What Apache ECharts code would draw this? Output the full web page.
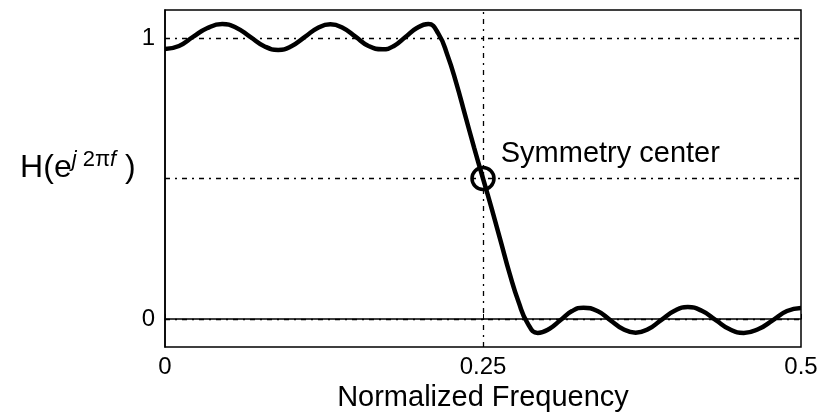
<!DOCTYPE html>
<html>
<head>
<meta charset="utf-8">
<script src="https://cdn.jsdelivr.net/npm/echarts@6/dist/echarts.min.js"></script>
<style>
  html, body { margin: 0; padding: 0; background: #fff; }
  #main { width: 820px; height: 419px; }
</style>
</head>
<body>
<div id="main"></div>
<script>
// frequency samples (normalized) and magnitude,
// sampled at the ripple peaks/troughs and between them
const freq = [0, 0.011, 0.022, 0.033, 0.045, 0.056, 0.067, 0.078, 0.089,
  0.099, 0.110, 0.120, 0.130, 0.140, 0.150, 0.160, 0.171,
  0.180, 0.189, 0.198, 0.207, 0.215, 0.222, 0.229, 0.236, 0.243,
  0.250, 0.257, 0.264, 0.271, 0.278, 0.285, 0.293,
  0.302, 0.311, 0.320, 0.329, 0.340, 0.350, 0.360, 0.370,
  0.380, 0.390, 0.401, 0.411, 0.422, 0.433, 0.444, 0.455,
  0.467, 0.478, 0.489, 0.500]
const response = [0.961, 0.972, 1.004, 1.035, 1.050, 1.037, 1.004, 0.971, 0.958,
  0.970, 1.004, 1.036, 1.049, 1.036, 1.004, 0.972, 0.960,
  0.972, 1.004, 1.036, 1.050, 1.015, 0.940, 0.840, 0.725, 0.610,
  0.500, 0.390, 0.275, 0.160, 0.060, -0.015, -0.050,
  -0.036, -0.004, 0.028, 0.040, 0.028, -0.004, -0.036, -0.049,
  -0.036, -0.004, 0.030, 0.042, 0.029, -0.004, -0.037, -0.050,
  -0.035, -0.004, 0.028, 0.039]

// tick labels and reference lines
const xTicks = [0, 0.25, 0.5]
const yTicks = [0, 0.5, 1]
const yLabels = [0, 1]
const hGrid = [0, 0.5, 1]
const vGrid = [0.25]
const center = [0.25, 0.5]

const font = 'Liberation Sans, Arial, sans-serif'
const gridStyle = { color: '#000', width: 1.3, type: [5, 5, 2, 5] }

const curve = freq.map((f, i) => [f, response[i]])

const markData = hGrid.map(v => ({ yAxis: v }))
  .concat(vGrid.map(v => ({ xAxis: v })))

var myChart = echarts.init(document.getElementById('main'))

const option = {
  animation: false,
  backgroundColor: '#fff',
  grid: {
    left: 165, right: 19, top: 10, bottom: 72,
    containLabel: false,
    outerBoundsMode: 'none',
    show: true, borderColor: '#000', borderWidth: 1.5
  },
  xAxis: {
    type: 'value',
    min: 0, max: 0.5,
    name: 'Normalized Frequency',
    nameLocation: 'middle',
    nameGap: 36,
    nameTextStyle: { fontFamily: font, fontSize: 29, color: '#000' },
    axisLine: { show: true, lineStyle: { color: '#000', width: 1.5 } },
    axisTick: { show: true, inside: true, length: 5, customValues: xTicks, lineStyle: { color: '#000' } },
    axisLabel: {
      customValues: xTicks, margin: 8,
      fontFamily: font, fontSize: 24, color: '#000',
      formatter: v => String(v)
    },
    splitLine: { show: false }
  },
  yAxis: {
    type: 'value',
    min: -0.1, max: 1.1,
    name: '{b|H(e}{i|j}{s| 2π}{i|f}{b| )}',
    nameLocation: 'middle',
    nameRotate: 0,
    nameGap: 26,
    nameTextStyle: {
      align: 'right',
      padding: [0, 0, 24, 0],
      rich: {
        b: { fontFamily: font, fontSize: 32, color: '#000', verticalAlign: 'bottom', lineHeight: 36 },
        s: { fontFamily: font, fontSize: 22, color: '#000', verticalAlign: 'top', lineHeight: 36 },
        i: { fontFamily: font, fontSize: 22, fontStyle: 'italic', color: '#000', verticalAlign: 'top', lineHeight: 36 }
      }
    },
    axisLine: { show: true, lineStyle: { color: '#000', width: 1.5 } },
    axisTick: { show: true, inside: true, length: 5, customValues: yTicks, lineStyle: { color: '#000' } },
    axisLabel: {
      customValues: yLabels, margin: 10,
      fontFamily: font, fontSize: 24, color: '#000'
    },
    splitLine: { show: false }
  },
  series: [
    {
      type: 'line',
      data: curve,
      smooth: 0.5,
      symbol: 'none',
      lineStyle: { color: '#000', width: 4.5 },
      markLine: {
        silent: true,
        symbol: 'none',
        label: { show: false },
        lineStyle: gridStyle,
        data: markData
      },
      z: 3
    },
    {
      type: 'scatter',
      data: [center],
      symbol: 'circle',
      symbolSize: 22,
      itemStyle: { color: 'rgba(255,255,255,0)', borderColor: '#000', borderWidth: 3.5, opacity: 1 },
      label: {
        show: true,
        position: 'right',
        offset: [0, -25],
        formatter: 'Symmetry center',
        fontFamily: font, fontSize: 29, color: '#000'
      },
      z: 4
    }
  ]
}

myChart.setOption(option)
</script>
</body>
</html>
